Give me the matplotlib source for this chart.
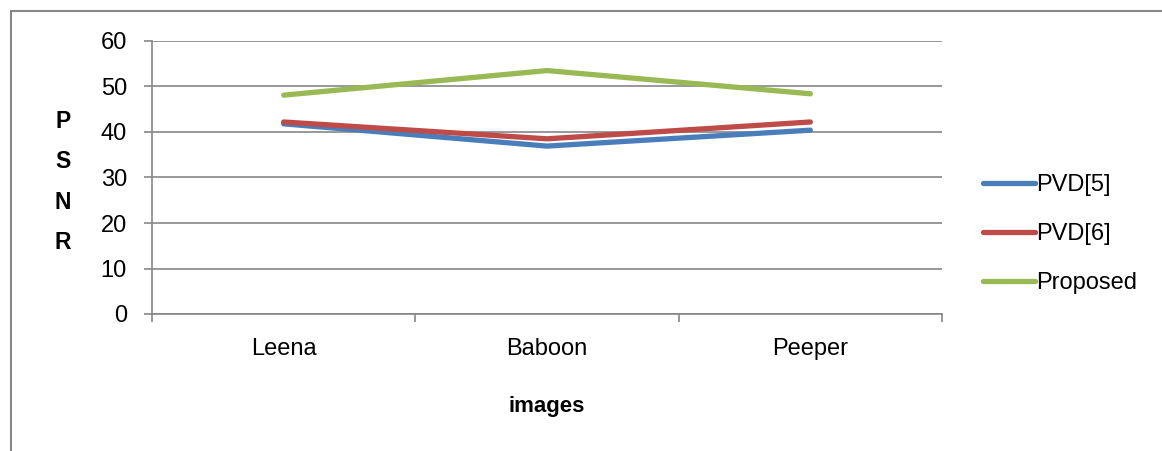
import matplotlib
matplotlib.use("Agg")
import matplotlib.pyplot as plt
from matplotlib.font_manager import findfont, FontProperties
from matplotlib.patches import Rectangle

# data
images = ["Leena", "Baboon", "Peeper"]
pvd5 = [41.8, 36.9, 40.4]
pvd6 = [42.2, 38.5, 42.2]
proposed = [48.1, 53.5, 48.4]

fam = "Liberation Sans Narrow"
try:
    findfont(FontProperties(family=fam), fallback_to_default=False)
except Exception:
    fam = "Liberation Sans"
plt.rcParams["font.family"] = [fam, "DejaVu Sans"]

W, H = 1162, 451
fig = plt.figure(figsize=(W / 100, H / 100), dpi=100)

# outer frame, runs off the right and bottom edges
fig.patches.append(Rectangle((11 / W, -0.1), 1.2, (H - 11) / H + 0.1,
                             transform=fig.transFigure, fill=False,
                             edgecolor="#888888", linewidth=1.5))

ax = fig.add_axes([152 / W, (H - 314) / H, 790 / W, 273 / H])
grey = "#868686"
x = range(len(images))
ax.plot(x, pvd5, color="#4A7EBB", lw=3.8, solid_capstyle="round", label="PVD[5]")
ax.plot(x, pvd6, color="#BE4B48", lw=3.8, solid_capstyle="round", label="PVD[6]")
ax.plot(x, proposed, color="#98B954", lw=3.8, solid_capstyle="round", label="Proposed")

ax.set_xlim(-0.5, len(images) - 0.5)
ax.set_ylim(0, 60)
ax.set_yticks(range(0, 61, 10))
ax.yaxis.grid(True, color=grey, lw=1.2)
ax.set_axisbelow(True)
for s in ["top", "right"]:
    ax.spines[s].set_visible(False)
for s in ["left", "bottom"]:
    ax.spines[s].set_color(grey)
    ax.spines[s].set_linewidth(1.2)

ax.set_xticks([i - 0.5 for i in range(len(images) + 1)])
ax.set_xticklabels([])
ax.set_xticks(list(x), minor=True)
ax.set_xticklabels(images, minor=True, fontsize=17)
ax.tick_params(axis="x", which="major", direction="out", length=6, width=1.2, color=grey)
ax.tick_params(axis="x", which="minor", length=0, pad=17)
ax.tick_params(axis="y", direction="out", length=6, width=1.2, color=grey,
               labelsize=17, pad=12)

ax.set_xlabel("images", fontsize=16, fontweight="bold", labelpad=26)
fig.text(63 / W, 1 - 182 / H, "P\nS\nN\nR", fontsize=16.5, fontweight="bold",
         ha="center", va="center", linespacing=1.95)

leg = ax.legend(loc="center left", bbox_to_anchor=(1.025, 0.292), frameon=False,
                fontsize=17, handlelength=2.2, handletextpad=0.05,
                labelspacing=1.15)

fig.savefig("out.png", dpi=100)
